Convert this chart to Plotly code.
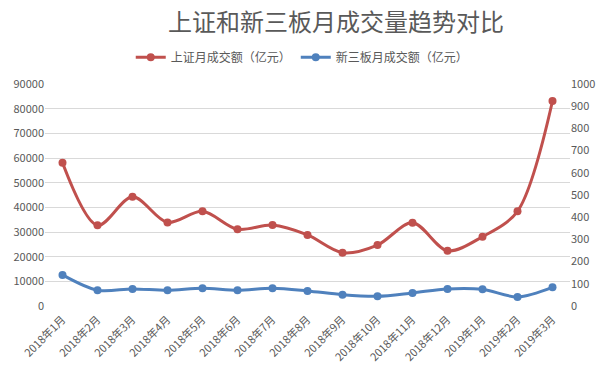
import plotly.graph_objects as go

months = ["2018年1月", "2018年2月", "2018年3月", "2018年4月", "2018年5月", "2018年6月",
          "2018年7月", "2018年8月", "2018年9月", "2018年10月", "2018年11月", "2018年12月",
          "2019年1月", "2019年2月", "2019年3月"]
sh_turnover = [58100, 32700, 44300, 33900, 38400, 31100, 32800, 28800,
               21600, 24700, 33800, 22400, 28100, 38400, 83100]
neeq_turnover = [140, 71, 77, 71, 80, 71, 80, 68, 51, 44, 59, 77, 75, 41, 84]

left_ticks = list(range(0, 90001, 10000))
right_ticks = list(range(0, 1001, 100))

RED = "#C0504D"
BLUE = "#4F81BD"
TXT = "#595959"
FONT = "Noto Sans CJK SC"

fig = go.Figure()
fig.add_trace(go.Scatter(
    x=months, y=sh_turnover, name="上证月成交额（亿元）", mode="lines+markers",
    line=dict(color=RED, width=3, shape="spline", smoothing=0.9),
    marker=dict(color=RED, size=8), yaxis="y"))
fig.add_trace(go.Scatter(
    x=months, y=neeq_turnover, name="新三板月成交额（亿元）", mode="lines+markers",
    line=dict(color=BLUE, width=3, shape="spline", smoothing=0.9),
    marker=dict(color=BLUE, size=8), yaxis="y2"))

fig.update_layout(
    width=611, height=371,
    margin=dict(l=45, r=41, t=84, b=65),
    paper_bgcolor="white", plot_bgcolor="white",
    font=dict(family=FONT, color=TXT, size=11),
    title=dict(text="上证和新三板月成交量趋势对比", x=0.55, xanchor="center",
               y=0.94, yanchor="middle", yref="container",
               font=dict(family=FONT, size=24, color=TXT)),
    legend=dict(orientation="h", x=0.49, xanchor="center", y=1.12, yanchor="middle",
                font=dict(family=FONT, size=12, color=TXT), bgcolor="rgba(0,0,0,0)",
                itemwidth=30),
    showlegend=True,
    xaxis=dict(type="category", range=[-0.5, len(months) - 0.5], tickangle=-45,
               showgrid=False, showline=False, ticks="", automargin=False,
               ticklabelstandoff=4,
               tickfont=dict(family=FONT, size=11, color=TXT)),
    yaxis=dict(range=[0, 90000], tickvals=left_ticks, ticktext=[str(v) for v in left_ticks],
               showgrid=True, gridcolor="#D9D9D9", gridwidth=1, zeroline=False,
               showline=False, ticks="", automargin=False,
               tickfont=dict(family=FONT, size=11, color=TXT)),
    yaxis2=dict(range=[0, 1000], tickvals=right_ticks, ticktext=[str(v) for v in right_ticks],
                overlaying="y", side="right", showgrid=False, zeroline=False,
                showline=False, ticks="", automargin=False,
                tickfont=dict(family=FONT, size=11, color=TXT)),
)

fig.write_html("out.html", config={"displayModeBar": False},
               post_script="document.body.style.margin='0';")
